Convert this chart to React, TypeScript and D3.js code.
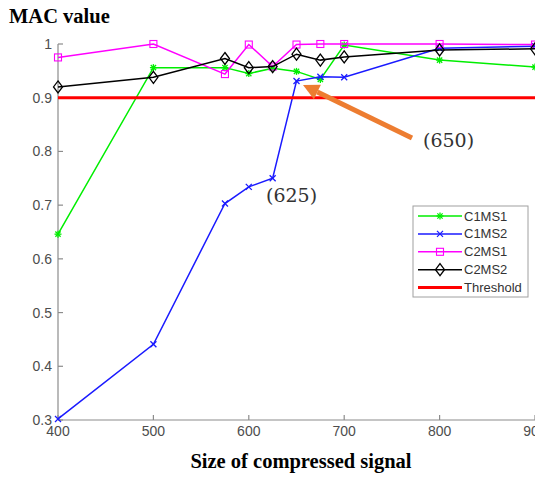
import React from "react";
import * as d3 from "d3";

const sizes = [400, 500, 575, 600, 625, 650, 675, 700, 800, 900];
const c1ms1 = [0.646, 0.956, 0.956, 0.945, 0.955, 0.949, 0.934, 0.998, 0.970, 0.957];
const c1ms2 = [0.302, 0.441, 0.703, 0.734, 0.750, 0.931, 0.939, 0.938, 0.992, 0.996];
const c2ms1 = [0.975, 1.0, 0.944, 0.999, 0.958, 0.999, 1.0, 1.0, 1.0, 0.999];
const c2ms2 = [0.920, 0.938, 0.973, 0.956, 0.958, 0.981, 0.970, 0.976, 0.989, 0.991];
const threshold = 0.9;
const xTicks = [400, 500, 600, 700, 800, 900];
const yTicks = [0.3, 0.4, 0.5, 0.6, 0.7, 0.8, 0.9, 1];

const seriesList = [
  { name: "C1MS1", values: c1ms1, color: "#00ee00", marker: "star" },
  { name: "C1MS2", values: c1ms2, color: "#1a1aff", marker: "x" },
  { name: "C2MS1", values: c2ms1, color: "#ff00ff", marker: "square" },
  { name: "C2MS2", values: c2ms2, color: "#000000", marker: "diamond" },
];

const W = 535, H = 477;
const x = d3.scaleLinear().domain([400, 900]).range([58, 535]);
const y = d3.scaleLinear().domain([0.3, 1]).range([420, 44]);

function Marker({ type, cx, cy, color }: { type: string; cx: number; cy: number; color: string }) {
  const sw = 1.3;
  if (type === "star") {
    const r = 3.5;
    return (
      <g stroke={color} strokeWidth={sw}>
        <line x1={cx - r} y1={cy} x2={cx + r} y2={cy} />
        <line x1={cx} y1={cy - r} x2={cx} y2={cy + r} />
        <line x1={cx - r * 0.75} y1={cy - r * 0.75} x2={cx + r * 0.75} y2={cy + r * 0.75} />
        <line x1={cx - r * 0.75} y1={cy + r * 0.75} x2={cx + r * 0.75} y2={cy - r * 0.75} />
      </g>
    );
  }
  if (type === "x") {
    const r = 3;
    return (
      <g stroke={color} strokeWidth={sw}>
        <line x1={cx - r} y1={cy - r} x2={cx + r} y2={cy + r} />
        <line x1={cx - r} y1={cy + r} x2={cx + r} y2={cy - r} />
      </g>
    );
  }
  if (type === "square") {
    const r = 3.5;
    return <rect x={cx - r} y={cy - r} width={2 * r} height={2 * r} fill="none" stroke={color} strokeWidth={1.1} />;
  }
  const rx = 4.5, ry = 6;
  return (
    <path
      d={`M${cx},${cy - ry}L${cx + rx},${cy}L${cx},${cy + ry}L${cx - rx},${cy}Z`}
      fill="none"
      stroke={color}
      strokeWidth={1.3}
    />
  );
}

export default function App() {
  const line = d3
    .line<[number, number]>()
    .x((d) => x(d[0]))
    .y((d) => y(d[1]));

  const legendX = 413, legendY = 206;
  const legendItems = [...seriesList.map((s) => ({ name: s.name, color: s.color, marker: s.marker })), { name: "Threshold", color: "#ff0000", marker: "none" }];

  const arrowStart: [number, number] = [412, 138];
  const arrowEnd: [number, number] = [303, 85];
  const ang = Math.atan2(arrowEnd[1] - arrowStart[1], arrowEnd[0] - arrowStart[0]);
  const headLen = 16, headW = 8;
  const bx = arrowEnd[0] - headLen * Math.cos(ang);
  const by = arrowEnd[1] - headLen * Math.sin(ang);
  const px = -Math.sin(ang), py = Math.cos(ang);

  return (
    <svg width={W} height={H} style={{ position: "absolute", left: 0, top: 0, background: "#fff" }}>
      <rect x={0} y={0} width={W} height={H} fill="#fff" />
      {/* axes */}
      <g stroke="#8c8c8c" strokeWidth={1.2} fill="none">
        <line x1={x(400)} y1={y(0.3)} x2={x(900)} y2={y(0.3)} />
        <line x1={x(400)} y1={y(0.3)} x2={x(400)} y2={y(1)} />
        {xTicks.map((t) => (
          <line key={"xt" + t} x1={x(t)} y1={y(0.3)} x2={x(t)} y2={y(0.3) - 5} />
        ))}
        {yTicks.map((t) => (
          <line key={"yt" + t} x1={x(400)} y1={y(t)} x2={x(400) + 5} y2={y(t)} />
        ))}
      </g>
      <g fontFamily="Liberation Sans, Arial, sans-serif" fontSize={14} fill="#4d4d4d">
        {xTicks.map((t) => (
          <text key={"xl" + t} x={x(t)} y={y(0.3) + 16} textAnchor="middle">
            {t}
          </text>
        ))}
        {yTicks.map((t) => (
          <text key={"yl" + t} x={x(400) - 6} y={y(t) + 5} textAnchor="end">
            {t === 1 ? "1" : t.toFixed(1)}
          </text>
        ))}
      </g>
      {/* series */}
      {seriesList.map((s) => {
        const pts = sizes.map((v, i) => [v, s.values[i]] as [number, number]);
        return (
          <g key={s.name}>
            <path d={line(pts) || ""} fill="none" stroke={s.color} strokeWidth={1.5} />
            {pts.map((p, i) => (
              <Marker key={i} type={s.marker} cx={x(p[0])} cy={y(p[1])} color={s.color} />
            ))}
          </g>
        );
      })}
      <line x1={x(400)} y1={y(threshold)} x2={x(900)} y2={y(threshold)} stroke="#ff0000" strokeWidth={3} />
      {/* titles */}
      <text x={9} y={23} fontFamily="Liberation Serif, Times New Roman, serif" fontWeight="bold" fontSize={20.5} fill="#000">
        MAC value
      </text>
      <text x={301} y={468} textAnchor="middle" fontFamily="Liberation Serif, Times New Roman, serif" fontWeight="bold" fontSize={20.5} fill="#000">
        Size of compressed signal
      </text>
      {/* annotations */}
      <text x={266} y={202} fontFamily="DejaVu Serif, serif" fontSize={19} fill="#333">
        (625)
      </text>
      <text x={423} y={147} fontFamily="DejaVu Serif, serif" fontSize={19} fill="#333">
        (650)
      </text>
      <line x1={arrowStart[0]} y1={arrowStart[1]} x2={bx} y2={by} stroke="#ed7d31" strokeWidth={5} />
      <path
        d={`M${arrowEnd[0]},${arrowEnd[1]}L${bx + px * headW},${by + py * headW}L${bx - px * headW},${by - py * headW}Z`}
        fill="#ed7d31"
      />
      {/* legend */}
      <rect x={legendX} y={legendY} width={115} height={91} fill="#fff" stroke="#a0a0a0" strokeWidth={1} />
      {legendItems.map((it, i) => {
        const ly = legendY + 10 + i * 17.9;
        return (
          <g key={it.name}>
            <line x1={legendX + 5} y1={ly} x2={legendX + 49} y2={ly} stroke={it.color} strokeWidth={it.marker === "none" ? 3 : 1.5} />
            {it.marker !== "none" && <Marker type={it.marker} cx={legendX + 27} cy={ly} color={it.color} />}
            <text x={legendX + 51} y={ly + 4.5} fontFamily="Liberation Sans, Arial, sans-serif" fontSize={13} fill="#333">
              {it.name}
            </text>
          </g>
        );
      })}
    </svg>
  );
}
